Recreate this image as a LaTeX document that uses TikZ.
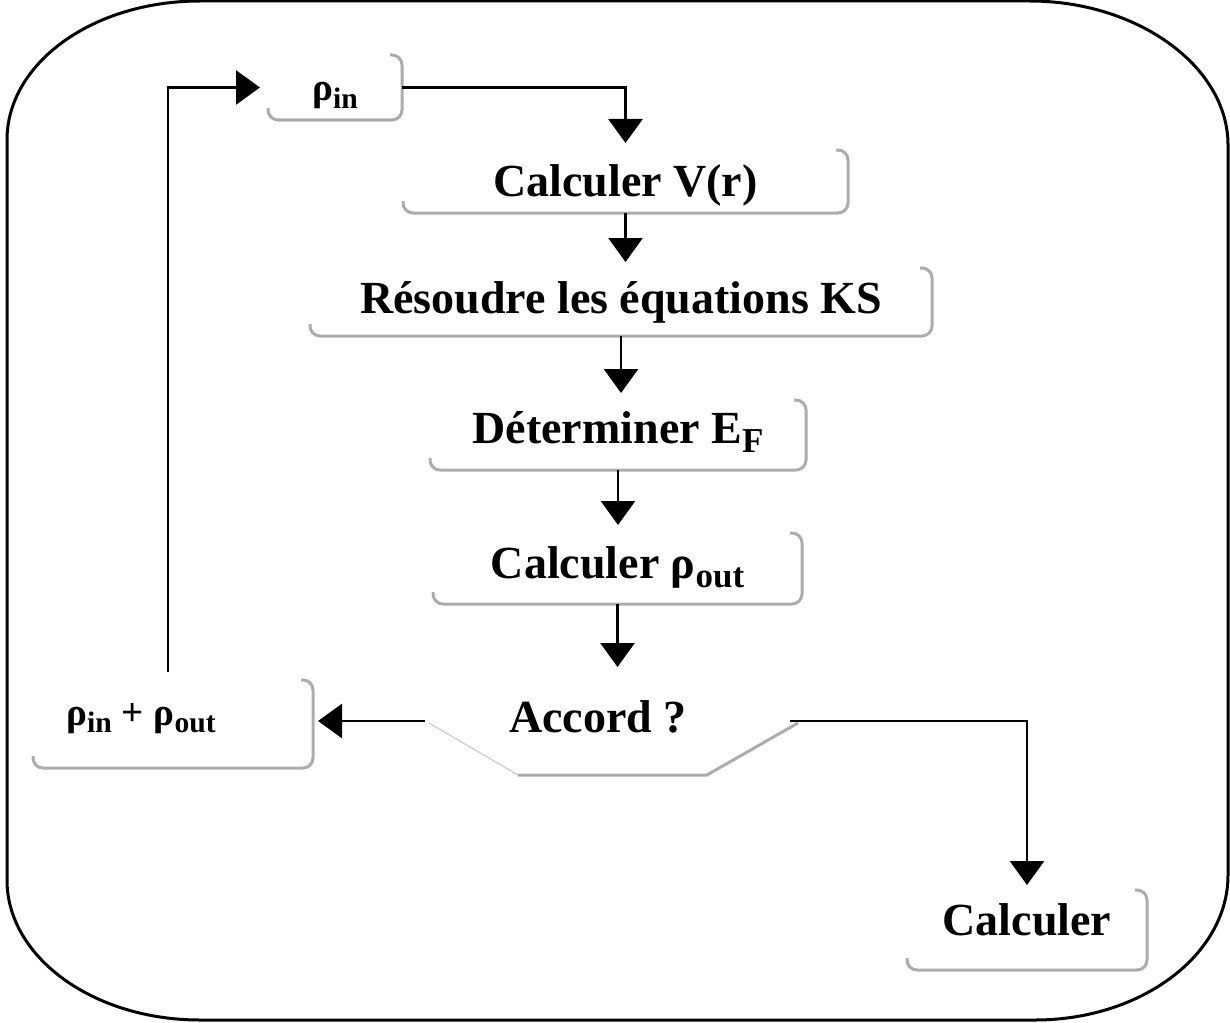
\documentclass[tikz,border=0pt]{standalone}
\usepackage{fontspec}
\setmainfont{Liberation Serif}
\usetikzlibrary{arrows.meta,calc}

\newcommand{\grand}{\fontsize{23}{27}\selectfont\bfseries}
\newcommand{\petit}{\fontsize{19.5}{23}\selectfont\bfseries}
\newcommand{\indice}[1]{\raisebox{-0.2em}{\scalebox{0.76}{#1}}}
\newcommand{\ombre}[1]{\draw[ombre] ([yshift=6pt]#1.south west) -- (#1.south west) -- (#1.south east) -- (#1.north east) -- ([xshift=-6pt]#1.north east);}

\begin{document}
\begin{tikzpicture}[x=0.5pt,y=-0.5pt,
    etape/.style={inner sep=0pt, outer sep=0pt, font=\grand, text height=15pt, text depth=0pt},
    petit/.style={font=\petit, text height=13pt, text depth=0pt},
    ombre/.style={draw=gray!65, line width=1.5pt, rounded corners=5pt},
    fleche/.style={line width=1.3pt, -{Triangle[width=17pt,length=12pt]}},
    cadre/.style={line width=1.5pt}]
    \useasboundingbox (0,0) rectangle (1230,1022);
    % cadre
    \draw[cadre] (7,140) -- (7,880) .. controls (7,957) and (93,1020) .. (200,1020) -- (1035,1020)
        .. controls (1141,1020) and (1228,955) .. (1228,875) -- (1228,145)
        .. controls (1228,66) and (1137,1) .. (1030,1) -- (200,1) .. controls (93,1) and (7,63) .. (7,140) -- cycle;

    % etapes
    \node[etape, petit, minimum width=67pt, minimum height=32.5pt] (rhoin) at (335,87.5) {ρ\indice{in}};
    \node[etape, minimum width=222.5pt, minimum height=31.5pt] (calcV) at (625.5,181.5) {Calculer V(r)};
    \node[etape, minimum width=311pt, minimum height=34pt, text depth=4pt] (resoudre) at (621,302) {Résoudre les équations KS};
    \node[etape, minimum width=188pt, minimum height=35pt, text depth=7pt] (determiner) at (618,435) {Déterminer E\indice{F}};
    \node[etape, minimum width=184.5pt, minimum height=35.5pt, text depth=5.5pt] (calcrho) at (617.5,568.5) {Calculer ρ\indice{out}};
    \node[etape, minimum width=140pt, minimum height=44pt] (somme) at (173,724) {};
    \node[petit] (sommetxt) at (141,712) {ρ\indice{in} + ρ\indice{out}};
    \node[etape, minimum width=120pt, minimum height=40pt, text depth=10pt] (calc) at (1027,930) {Calculer};
    \node[etape, minimum height=45pt] (accord) at (598,717) {Accord ?};

    \ombre{rhoin}
    \ombre{calcV}
    \ombre{resoudre}
    \ombre{determiner}
    \ombre{calcrho}
    \ombre{somme}
    \ombre{calc}

    % test
    \coordinate (accg) at (425,721);
    \coordinate (accd) at (790,721);
    \draw[gray!40, line width=0.6pt] (429,723) -- (518,775);
    \draw[ombre, rounded corners=0pt] (518,775) -- (707,775) -- (798,723);

    % fleches
    \draw[fleche, shorten >=3.5pt] (rhoin.east) -| (calcV.north);
    \draw[fleche, shorten >=3pt] (calcV.south) -- (calcV.south |- resoudre.north);
    \draw[fleche, shorten >=3.5pt] (resoudre.south) -- (resoudre.south |- determiner.north);
    \draw[fleche, shorten >=4pt] (determiner.south) -- (determiner.south |- calcrho.north);
    \draw[fleche, shorten >=2.5pt] (calcrho.south) -- (calcrho.south |- accord.north);
    \draw[fleche, shorten >=2.5pt] (accg) -- (accg -| somme.east);
    \draw[fleche, shorten >=2.5pt] (accd) -| (calc.north);
    \draw[fleche, shorten <=4pt, shorten >=4pt] ([xshift=-2.5pt]somme.north) |- (rhoin.west);
\end{tikzpicture}
\end{document}
